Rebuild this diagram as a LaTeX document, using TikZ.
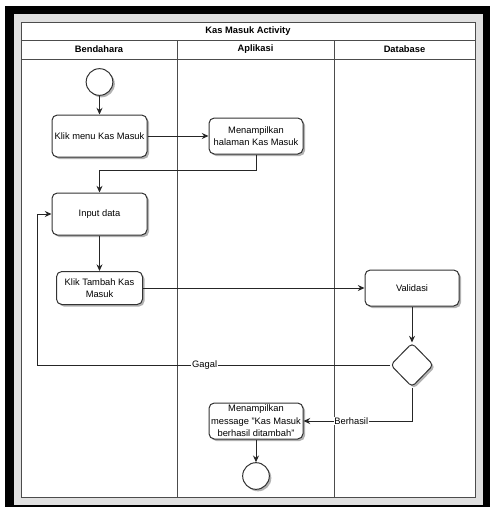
\documentclass[tikz,border=0pt]{standalone}
\usepackage{fontspec}
\setmainfont{Liberation Sans}
\usetikzlibrary{arrows.meta,shapes.geometric,shadows}

\tikzset{every picture/.style={line width=0.75pt}}
\tikzset{
  bayang/.style={drop shadow={shadow xshift=1.5pt,shadow yshift=-1.5pt,opacity=0.3,fill=black}},
  aksi/.style={draw=black!80, fill=white, rounded corners=4pt, align=center, inner sep=1pt,
    font=\fontsize{7}{9.4}\selectfont, bayang},
  awal/.style={circle, draw=black!80, fill=white, minimum size=20pt, inner sep=0pt, bayang},
  cabang/.style={diamond, draw=black!80, fill=white, minimum width=32.25pt, minimum height=33pt,
    inner sep=0pt, rounded corners=3pt, bayang},
  alur/.style={draw=black!85, -{Stealth[length=5pt,width=4.5pt]}},
  ket/.style={fill=white, inner sep=0.6pt, font=\fontsize{7}{8}\selectfont},
  judul/.style={font=\fontsize{7}{8}\selectfont\bfseries}
}

\begin{document}
\begin{tikzpicture}[x=0.75pt,y=0.75pt,yscale=-1,xscale=1]
        \useasboundingbox (0,0) rectangle (490,507);
        % bingkai
        \fill[black] (5,6) rectangle (490,507);
        \fill[black!12] (14,14) rectangle (483,505);
        \fill[white] (21,22) rectangle (475,497);
        % swimlane
        \draw[black!70] (21,22) rectangle (475,497);
        \draw[black!70] (21,40) -- (475,40);
        \draw[black!70] (21,59) -- (475,59);
        \draw[black!70] (177,40) -- (177,497);
        \draw[black!70] (334,40) -- (334,497);
        \node[judul] (jdl) at (248,31) {Kas Masuk Activity};
        \node[judul] (bendahara) at (99,49.5) {Bendahara};
        \node[judul] (aplikasi) at (255.5,49.5) {Aplikasi};
        \node[judul] (database) at (404.5,49.5) {Database};
        % aktivitas
        \node[awal] (mulai) at (99.5,82) {};
        \node[aksi, minimum width=71.25pt, minimum height=31.5pt] (menu) at (99.5,136) {Klik menu Kas Masuk};
        \node[aksi, minimum width=70.5pt, minimum height=27pt] (tampil) at (256,136) {Menampilkan\\halaman Kas Masuk};
        \node[aksi, minimum width=71.25pt, minimum height=31.5pt] (input) at (99.5,214) {Input data};
        \node[aksi, minimum width=64.5pt, minimum height=24.75pt] (tambah) at (99.5,288) {Klik Tambah Kas\\Masuk};
        \node[aksi, minimum width=70.5pt, minimum height=27pt] (validasi) at (412,288) {Validasi};
        \node[cabang] (cek) at (412,365) {};
        \node[aksi, minimum width=70.5pt, minimum height=27pt] (pesan) at (256,421) {Menampilkan\\message "Kas Masuk\\berhasil ditambah"};
        \node[awal] (selesai) at (256,476) {};
        \coordinate (belok) at (37,365);
        % alur
        \draw[alur] (mulai) -- (menu);
        \draw[alur] (menu) -- (tampil);
        \draw[alur] (tampil.south) -- ++(0,16) -| (input.north);
        \draw[alur] (input) -- (tambah);
        \draw[alur] (tambah) -- (validasi);
        \draw[alur] (validasi) -- (cek);
        \draw[alur] (cek.west) -- node[ket, pos=0.525] {Gagal} (belok) |- (input.west);
        \draw[alur] (cek.south) |- node[ket, pos=0.78] {Berhasil} (pesan.east);
        \draw[alur] (pesan) -- (selesai);
\end{tikzpicture}
\end{document}
